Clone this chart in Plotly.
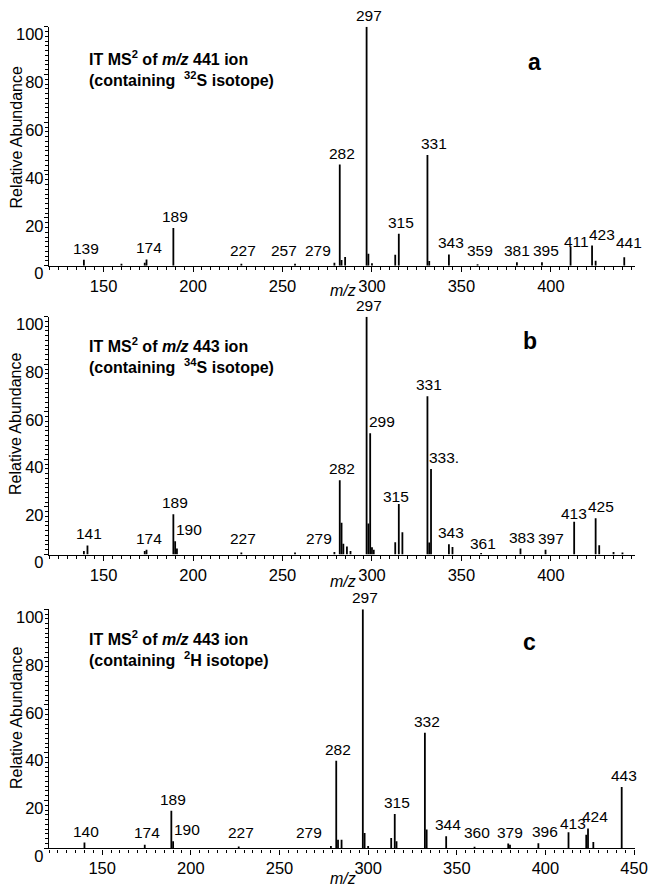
import plotly.graph_objects as go

# ---------------- data ----------------
# Panel a: IT MS2 of m/z 441 (32S)
mz_a = [139, 160, 173, 174, 189, 227, 257, 279, 282, 283, 285, 297, 298, 300,
        313, 315, 331, 332, 343, 359, 381, 395, 411, 423, 425, 441]
ab_a = [2.5, 0.8, 1.2, 2.6, 15.8, 0.8, 0.8, 1.2, 42.3, 2.4, 3.6, 100, 5.0, 1.0,
        4.6, 13.4, 46.3, 2.0, 4.7, 0.6, 1.4, 1.4, 8.0, 8.4, 2.1, 3.5]
lab_a = [139, 174, 189, 227, 257, 279, 282, 297, 315, 331, 343, 359, 381, 395,
         411, 423, 441]
txt_a = ["139", "174", "189", "227", "257", "279", "282", "297", "315", "331",
         "343", "359", "381", "395", "411", "423", "441"]

# Panel b: IT MS2 of m/z 443 (34S)
mz_b = [139, 141, 173, 174, 189, 190, 191, 227, 257, 279, 282, 283, 284, 286,
        288, 297, 298, 299, 300, 301, 313, 315, 317, 331, 332, 333, 343, 345,
        361, 383, 397, 413, 425, 427, 435, 440]
ab_b = [1.5, 3.8, 1.5, 2.0, 16.9, 5.6, 2.5, 0.8, 0.8, 1.0, 31.2, 13.3, 4.5, 3.4,
        1.5, 100, 13.0, 51.0, 3.0, 2.0, 5.2, 21.2, 9.4, 66.6, 5.0, 36.0, 4.3, 3.2,
        0.6, 2.5, 2.0, 13.8, 15.2, 3.9, 1.0, 0.8]
lab_b = [141, 174, 189, 190, 227, 279, 282, 297, 299, 315, 331, 333, 343, 361,
         383, 397, 413, 425]
txt_b = ["141", "174", "189", "190", "227", "279", "282", "297", "299", "315",
         "331", "333.", "343", "361", "383", "397", "413", "425"]

# Panel c: IT MS2 of m/z 443 (2H)
mz_c = [140, 174, 189, 190, 227, 279, 282, 283, 285, 297, 298, 300, 313, 315,
        316, 332, 333, 344, 360, 379, 380, 396, 413, 423, 424, 427, 443]
ab_c = [2.4, 1.5, 15.7, 3.0, 0.8, 1.0, 36.6, 3.6, 3.6, 100, 6.4, 1.0, 4.3, 14.3,
        2.9, 48.3, 7.9, 5.0, 0.6, 2.0, 1.5, 2.1, 6.7, 5.7, 8.3, 2.6, 25.7]
lab_c = [140, 174, 189, 190, 227, 279, 282, 297, 315, 332, 344, 360, 379, 396,
         413, 424, 443]
txt_c = ["140", "174", "189", "190", "227", "279", "282", "297", "315", "332",
         "344", "360", "379", "396", "413", "424", "443"]

titles = [
    "<b>IT MS<sup>2</sup> of <i>m/z</i> 441 ion<br>(containing\u00a0 <sup>32</sup>S isotope)</b>",
    "<b>IT MS<sup>2</sup> of <i>m/z</i> 443 ion<br>(containing\u00a0 <sup>34</sup>S isotope)</b>",
    "<b>IT MS<sup>2</sup> of <i>m/z</i> 443 ion<br>(containing\u00a0 <sup>2</sup>H isotope)</b>",
]
letters = ["a", "b", "c"]
x_ticks = [150, 200, 250, 300, 350, 400, 450]
y_ticks = [0, 20, 40, 60, 80, 100]

# ---------------- layout / style ----------------
OFF = 8                 # page body margin of the html page
W, H = 659 - OFF, 888 - OFF
PL, PR = 49, 635        # plot area left / right on screen (px)
ML, MR = PL - OFF, (OFF + W) - PR
FONT = "Liberation Sans, Arial, sans-serif"

# panel plot-area top / bottom on screen (px)
dom_px = [(26.7, 265.7), (316.7, 554.5), (609.3, 848.3)]
x_ranges = [[119.5, 447], [119.5, 447], [120, 450.5]]
title_pos = [(87, 68.5), (87, 355.7), (87, 648.7)]
letter_pos = [(534, 61.5), (530, 341.5), (529, 641.5)]
ytitle_pos = [(16, 137.5), (16, 424), (16, 718)]
mz_pos = [(343, 291), (343, 581), (343, 878)]

# label nudges (xshift, yshift) in px
nudges = [
    {257: (-13, 0), 279: (-18, 0), 331: (5, 0), 381: (-2, 0), 395: (2, 0),
     411: (4, -6), 423: (8, 0), 441: (3, 3)},
    {190: (12, 0), 279: (-17, 0), 299: (10, 0), 333: (11, 0), 397: (3, 0),
     425: (3, 0), 315: (-5, -4), 413: (-2, -3), 361: (0, -5)},
    {190: (12, 0), 279: (-24, 0), 396: (5, 0), 424: (5, 0), 413: (2, -3)},
]


def fy(py):
    return 1 - (py - OFF) / H


def fx(px):
    return (px - PL) / (PR - PL)


panels = [(mz_a, ab_a, lab_a, txt_a), (mz_b, ab_b, lab_b, txt_b),
          (mz_c, ab_c, lab_c, txt_c)]

fig = go.Figure()
annotations = []
layout_axes = {}

for i, (mz, ab, lab, txt) in enumerate(panels):
    k = "" if i == 0 else str(i + 1)
    xs, ys = [], []
    for m, a in zip(mz, ab):
        xs += [m, m, None]
        ys += [0, a, None]
    fig.add_trace(go.Scatter(
        x=xs, y=ys, mode="lines", line=dict(color="black", width=1.8),
        xaxis="x" + k, yaxis="y" + k, showlegend=False, hoverinfo="skip"))

    top, bot = dom_px[i]
    layout_axes["xaxis" + k] = dict(
        domain=[0, 1], anchor="y" + k, range=x_ranges[i],
        tickvals=x_ticks, ticks="outside", ticklen=5, tickwidth=1,
        tickcolor="black", showline=True, linecolor="black", linewidth=1.4,
        showgrid=False, zeroline=False, automargin=False,
        tickfont=dict(family=FONT, size=16.5, color="black"),
        minor=dict(dtick=5, tick0=0, ticks="outside", ticklen=3,
                   tickcolor="black", tickwidth=1),
    )
    layout_axes["yaxis" + k] = dict(
        domain=[fy(bot), fy(top)], anchor="x" + k, range=[0, 100],
        tickvals=y_ticks, ticks="outside", ticklen=4, tickwidth=1,
        tickcolor="black", showline=True, linecolor="black", linewidth=1.4,
        showgrid=False, zeroline=False, automargin=False,
        ticklabelshift=8, ticklabelstandoff=-3,
        tickfont=dict(family=FONT, size=16.5, color="black"),
        minor=dict(dtick=2, tick0=0, ticks="outside", ticklen=2.5,
                   tickcolor="black", tickwidth=1),
    )

    heights = dict(zip(mz, ab))
    for m, t in zip(lab, txt):
        dx, dy = nudges[i].get(m, (0, 0))
        annotations.append(dict(
            x=m, y=max(heights.get(m, 0), 1.7), xref="x" + k, yref="y" + k,
            text=t, showarrow=False, xanchor="center", yanchor="bottom",
            xshift=2 + dx, yshift=1 + dy,
            font=dict(family=FONT, size=15.5, color="black")))

    tx, ty = title_pos[i]
    annotations.append(dict(
        x=fx(tx), y=fy(ty), xref="paper", yref="paper", text=titles[i],
        showarrow=False, xanchor="left", yanchor="middle", align="left",
        font=dict(family=FONT, size=16, color="black")))
    lx, ly = letter_pos[i]
    annotations.append(dict(
        x=fx(lx), y=fy(ly), xref="paper", yref="paper",
        text="<b>" + letters[i] + "</b>", showarrow=False,
        xanchor="center", yanchor="middle",
        font=dict(family=FONT, size=23, color="black")))
    yx, yy = ytitle_pos[i]
    annotations.append(dict(
        x=fx(yx), y=fy(yy), xref="paper", yref="paper",
        text="Relative Abundance", textangle=-90, showarrow=False,
        xanchor="center", yanchor="middle",
        font=dict(family=FONT, size=16, color="black")))
    mx, my = mz_pos[i]
    annotations.append(dict(
        x=fx(mx), y=fy(my), xref="paper", yref="paper",
        text="<i>m/z</i>", showarrow=False, xanchor="center", yanchor="middle",
        font=dict(family=FONT, size=16, color="black")))

fig.update_layout(
    width=W, height=H,
    margin=dict(l=ML, r=MR, t=0, b=0, pad=0),
    paper_bgcolor="white", plot_bgcolor="white",
    showlegend=False,
    annotations=annotations,
    font=dict(family=FONT, color="black"),
    **layout_axes,
)

fig.write_html("out.html")
